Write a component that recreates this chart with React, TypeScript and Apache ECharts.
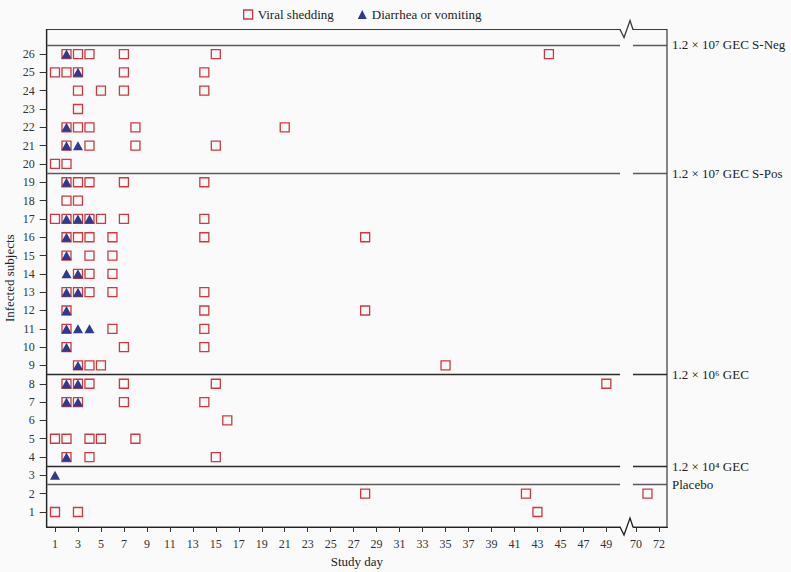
import React, { useEffect, useRef } from "react";
import * as echarts from "echarts";

// ---- data ----
const subjects = [1, 2, 3, 4, 5, 6, 7, 8, 9, 10, 11, 12, 13, 14, 15, 16, 17, 18, 19, 20, 21, 22, 23, 24, 25, 26];

// viral shedding days, per subject (index 0 => subject 1)
const sheddingDays: number[][] = [
  [1, 3, 43],
  [28, 42, 71],
  [],
  [2, 4, 15],
  [1, 2, 4, 5, 8],
  [16],
  [2, 3, 7, 14],
  [2, 3, 4, 7, 15, 49],
  [3, 4, 5, 35],
  [2, 7, 14],
  [2, 6, 14],
  [2, 14, 28],
  [2, 3, 4, 6, 14],
  [3, 4, 6],
  [2, 4, 6],
  [2, 3, 4, 6, 14, 28],
  [1, 2, 3, 4, 5, 7, 14],
  [2, 3],
  [2, 3, 4, 7, 14],
  [1, 2],
  [2, 4, 8, 15],
  [2, 3, 4, 8, 21],
  [3],
  [3, 5, 7, 14],
  [1, 2, 3, 7, 14],
  [2, 3, 4, 7, 15, 44],
];

// diarrhea or vomiting days, per subject
const symptomDays: number[][] = [
  [],
  [],
  [1],
  [2],
  [],
  [],
  [2, 3],
  [2, 3],
  [3],
  [2],
  [2, 3, 4],
  [2],
  [2, 3],
  [2, 3],
  [2],
  [2],
  [2, 3, 4],
  [],
  [2],
  [],
  [2, 3],
  [2],
  [],
  [],
  [3],
  [2],
];

const groupBoundaries = [26.5, 19.5, 8.5, 3.5, 2.5];
const groupLabels = [
  "1.2 × 10⁷ GEC S-Neg",
  "1.2 × 10⁷ GEC S-Pos",
  "1.2 × 10⁶ GEC",
  "1.2 × 10⁴ GEC",
  "Placebo",
];
const groupLineColors = ["#5a5a5a", "#5a5a5a", "#2a2a2a", "#2a2a2a", "#5a5a5a"];

const xTickValues = [1, 3, 5, 7, 9, 11, 13, 15, 17, 19, 21, 23, 25, 27, 29, 31, 33, 35, 37, 39, 41, 43, 45, 47, 49, 70, 72];

const yAxisTitle = "Infected subjects";

// ---- axis config ----
const X_MIN = 0.277;
const X_MAX = 72.7;
const BREAK_START = 50.19;
const BREAK_END = 69.74;
const BREAK_GAP = 1.13;
const Y_MIN = 0.181;
const Y_MAX = 27.34;

const FONT = "'Liberation Serif', 'DejaVu Serif', serif";
const RED = "#cc3a3f";
const NAVY = "#2f3a8f";
const BG = "#fafafa";

export default function App() {
  const ref = useRef<HTMLDivElement>(null);

  useEffect(() => {
    if (!ref.current) return;
    document.body.style.margin = "0";
    document.body.style.background = BG;
    const chart = echarts.init(ref.current, null, { renderer: "svg" });

    const shedData: number[][] = [];
    sheddingDays.forEach((days, i) => days.forEach((d) => shedData.push([d, subjects[i]])));
    const sympData: number[][] = [];
    symptomDays.forEach((days, i) => days.forEach((d) => sympData.push([d, subjects[i]])));

    const markLineData: any[] = [];
    groupBoundaries.forEach((y, i) => {
      const ls = { color: groupLineColors[i], width: 1.3, type: "solid" };
      markLineData.push([
        { coord: [X_MIN, y], lineStyle: ls, label: { show: false } },
        { coord: [BREAK_START, y] },
      ]);
      markLineData.push([
        {
          coord: [BREAK_END, y],
          lineStyle: ls,
          label: {
            show: true,
            position: "end",
            distance: 5,
            formatter: groupLabels[i],
            color: "#222",
            fontSize: 13,
            fontFamily: FONT,
          },
        },
        { coord: [X_MAX, y] },
      ]);
    });

    const option: any = {
      animation: false,
      backgroundColor: BG,
      textStyle: { fontFamily: FONT },
      legend: {
        left: 238,
        top: 3,
        itemWidth: 9,
        itemHeight: 9,
        itemGap: 24,
        textStyle: { fontFamily: FONT, fontSize: 13, color: "#222" },
        data: [
          {
            name: "Viral shedding",
            icon: "rect",
            itemStyle: { color: "transparent", borderColor: RED, borderWidth: 1.3 },
          },
          {
            name: "Diarrhea or vomiting",
            icon: "triangle",
            itemStyle: { color: NAVY, borderWidth: 0 },
          },
        ],
      },
      grid: {
        left: 46.7,
        right: 124,
        top: 29.5,
        bottom: 45,
        containLabel: false,
        outerBoundsMode: "none",
        show: true,
        borderColor: "#3a3a3a",
        borderWidth: 1.2,
        backgroundColor: "transparent",
      },
      xAxis: {
        type: "value",
        min: X_MIN,
        max: X_MAX,
        breaks: [{ start: BREAK_START, end: BREAK_END, gap: BREAK_GAP }],
        breakArea: { show: false },
        name: "Study day",
        nameLocation: "middle",
        nameGap: 28,
        nameTextStyle: { fontFamily: FONT, fontSize: 13, color: "#222" },
        axisLine: { show: true, onZero: false, lineStyle: { color: "#222", width: 1.2 } },
        axisTick: { show: true, length: 5, customValues: xTickValues, lineStyle: { color: "#333" } },
        axisLabel: {
          customValues: xTickValues,
          fontFamily: FONT,
          fontSize: 12,
          color: "#333",
          margin: 11,
        },
        splitLine: { show: false },
      },
      yAxis: {
        type: "value",
        min: Y_MIN,
        max: Y_MAX,
        axisLine: { show: true, onZero: false, lineStyle: { color: "#222", width: 1.2 } },
        axisTick: { show: true, length: 7, customValues: subjects, lineStyle: { color: "#333" } },
        axisLabel: {
          customValues: subjects,
          fontFamily: FONT,
          fontSize: 12,
          color: "#333",
          margin: 12,
        },
        splitLine: { show: false },
      },
      series: [
        {
          name: "Viral shedding",
          type: "scatter",
          symbol: "rect",
          symbolSize: 9,
          z: 2,
          silent: true,
          itemStyle: { color: "transparent", borderColor: RED, borderWidth: 1.3, opacity: 1 },
          data: shedData,
        },
        {
          name: "Diarrhea or vomiting",
          type: "scatter",
          symbol: "triangle",
          symbolSize: [10, 9],
          z: 3,
          silent: true,
          itemStyle: { color: NAVY, opacity: 1 },
          data: sympData,
        },
        {
          name: "groups",
          type: "scatter",
          data: [],
          silent: true,
          markLine: {
            silent: true,
            symbol: ["none", "none"],
            animation: false,
            data: markLineData,
          },
        },
      ],
    };

    chart.setOption(option);

    const xs = chart.convertToPixel({ xAxisIndex: 0 }, BREAK_START) as number;
    const xe = chart.convertToPixel({ xAxisIndex: 0 }, BREAK_END) as number;
    const yTop = chart.convertToPixel({ yAxisIndex: 0 }, Y_MAX) as number;
    const yBot = chart.convertToPixel({ yAxisIndex: 0 }, Y_MIN) as number;
    const zig = (y: number) => [
      [xs, y],
      [xs + 4, y + 8],
      [xs + 10, y - 9],
      [xe, y],
    ];
    const graphics: any[] = [
      {
        type: "text",
        x: 9,
        y: (yTop + yBot) / 2,
        rotation: Math.PI / 2,
        style: {
          text: yAxisTitle,
          fill: "#222",
          font: `13px ${FONT}`,
          align: "center",
          verticalAlign: "middle",
        },
      },
    ];
    if (isFinite(xs) && isFinite(xe)) {
      graphics.push(
        { type: "rect", z: 100, shape: { x: xs + 0.6, y: yTop - 2, width: xe - xs - 1.2, height: 4 }, style: { fill: BG } },
        { type: "rect", z: 100, shape: { x: xs + 0.6, y: yBot - 2, width: xe - xs - 1.2, height: 4 }, style: { fill: BG } },
        { type: "polyline", z: 101, shape: { points: zig(yTop) }, style: { stroke: "#3a3a3a", lineWidth: 1.3, fill: "none" } },
        { type: "polyline", z: 101, shape: { points: zig(yBot) }, style: { stroke: "#222", lineWidth: 1.3, fill: "none" } }
      );
    }
    chart.setOption({ graphic: graphics });

    return () => chart.dispose();
  }, []);

  return (
    <div
      ref={ref}
      style={{ position: "fixed", left: 0, top: 0, width: 791, height: 572, background: BG }}
    />
  );
}
